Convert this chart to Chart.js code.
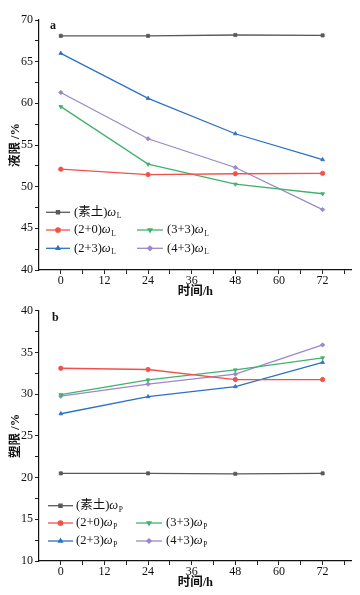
<!DOCTYPE html>
<html><head><meta charset="utf-8">
<script src="https://cdn.jsdelivr.net/npm/chart.js@4.4.1/dist/chart.umd.min.js"></script>
<style>
html,body{margin:0;padding:0;background:#fff;}
#wrap{position:relative;width:360px;height:595px;overflow:hidden;background:#fff;}
#c1{position:absolute;left:0;top:0;}
#c2{position:absolute;left:0;top:300px;}
</style></head>
<body>
<div id="wrap">
<canvas id="c1" width="360" height="300"></canvas>
<canvas id="c2" width="360" height="295"></canvas>
</div>
<script>
// ---- data ----
const hours = [0, 24, 48, 72];
const seriesNames = ['(素土)', '(2+0)', '(2+3)', '(3+3)', '(4+3)'];
// liquid limit (液限) %
const llPlain = [68.1, 68.1, 68.2, 68.15];
const ll20    = [52.1, 51.45, 51.55, 51.6];
const ll23    = [66.0, 60.6, 56.35, 53.25];
const ll33    = [59.6, 52.7, 50.3, 49.15];
const ll43    = [61.3, 55.75, 52.3, 47.25];
// plastic limit (塑限) %
const plPlain = [20.5, 20.5, 20.45, 20.5];
const pl20    = [33.1, 32.95, 31.75, 31.75];
const pl23    = [27.65, 29.7, 30.9, 33.8];
const pl33    = [29.95, 31.7, 32.9, 34.35];
const pl43    = [29.75, 31.2, 32.4, 35.9];
const xTicks = [0, 6, 12, 18, 24, 30, 36, 42, 48, 54, 60, 66, 72, 78];

const colors = ['#595959', '#f25149', '#2b72c4', '#3fb36c', '#9b88c9'];
const markers = ['rect', 'circle', 'triangle', 'triangle', 'rectRot'];
const rotations = [0, 0, 0, 180, 0];
const SERIF = "'Liberation Serif','Times New Roman','Noto Sans CJK SC',serif";
const MR = 2.2;

function pts(arr){ return hours.map((h,i)=>({x:h,y:arr[i]})); }

function makeDatasets(list){
  return list.map((arr,i)=>({
    label: seriesNames[i],
    data: pts(arr),
    borderColor: colors[i],
    backgroundColor: colors[i],
    borderWidth: 1.3,
    pointStyle: markers[i],
    pointRotation: rotations[i],
    pointRadius: MR,
    pointBorderWidth: 0.8,
    tension: 0
  }));
}

function drawMarker(ctx, style, rot, x, y){
  Chart.helpers.drawPoint(ctx, {pointStyle: style, rotation: rot, radius: MR, borderWidth: 0.8}, x, y);
}

const legendPlugin = {
  id: 'customLegend',
  afterDraw(chart, args, opts){
    const ctx = chart.ctx;
    ctx.save();
    opts.items.forEach(it=>{
      const i = it.idx;
      ctx.strokeStyle = colors[i];
      ctx.fillStyle = colors[i];
      ctx.lineWidth = 1.3;
      ctx.beginPath();
      ctx.moveTo(it.x0, it.y); ctx.lineTo(it.x1, it.y); ctx.stroke();
      drawMarker(ctx, markers[i], rotations[i], (it.x0+it.x1)/2, it.y);
      ctx.fillStyle = '#111';
      ctx.textBaseline = 'middle';
      ctx.textAlign = 'left';
      let tx = it.tx;
      ctx.font = "12.5px " + SERIF;
      ctx.fillText(seriesNames[i], tx, it.y);
      tx += ctx.measureText(seriesNames[i]).width;
      ctx.font = "italic 12.5px " + SERIF;
      ctx.fillText('ω', tx, it.y);
      tx += ctx.measureText('ω').width + 0.5;
      ctx.font = "7.5px " + SERIF;
      ctx.fillText(opts.sub, tx, it.y + 4);
    });
    ctx.fillStyle = '#111';
    ctx.font = "bold 12px " + SERIF;
    ctx.textBaseline = 'middle';
    ctx.fillText(opts.panel, opts.px, opts.py);
    ctx.restore();
  }
};

function makeChart(id, list, yMin, yMax, yTitle, cfg){
  const yTicks = [];
  for (let v = yMin; v <= yMax + 0.001; v += 2.5) yTicks.push(v);
  return new Chart(document.getElementById(id), {
    type: 'line',
    data: { datasets: makeDatasets(list) },
    plugins: [legendPlugin],
    options: {
      responsive: false,
      animation: false,
      devicePixelRatio: 1,
      layout: { padding: { top: cfg.padTop, right: 8.3, left: 0, bottom: 0 } },
      plugins: {
        legend: { display: false },
        tooltip: { enabled: false },
        customLegend: cfg.legend
      },
      scales: {
        x: {
          type: 'linear', min: -6, max: 80,
          afterBuildTicks: s => { s.ticks = xTicks.map(v=>({value:v})); },
          afterFit: s => { s.height = cfg.xh; },
          ticks: { autoSkip: false, maxRotation: 0, padding: 0, color: '#111',
            font: { family: SERIF, size: 12 },
            callback: v => (v % 12 === 0 ? String(v) : '') },
          grid: { display: true, drawOnChartArea: false, drawTicks: true, tickLength: 4, color: '#222', tickColor: '#222', lineWidth: 1 },
          border: { display: true, color: '#111', width: 1.2 },
          title: { display: true, text: '时间/h', color: '#111',
            font: { family: SERIF, size: 12.5, weight: 'bold' },
            padding: { top: 0, bottom: cfg.xtPad } }
        },
        y: {
          type: 'linear', min: yMin, max: yMax,
          afterBuildTicks: s => { s.ticks = yTicks.map(v=>({value:v})); },
          afterFit: s => { s.width = 39; },
          ticks: { autoSkip: false, padding: 2, color: '#111',
            font: { family: SERIF, size: 12 },
            callback: v => (v % 5 === 0 ? String(v) : '') },
          grid: { display: true, drawOnChartArea: false, drawTicks: true, tickLength: 4, color: '#222', tickColor: '#222', lineWidth: 1 },
          border: { display: true, color: '#111', width: 1.2 },
          title: { display: true, text: yTitle, color: '#111',
            font: { family: SERIF, size: 12.5, weight: 'bold' },
            padding: { top: 8, bottom: 0 } }
        }
      }
    }
  });
}

makeChart('c1', [llPlain, ll20, ll23, ll33, ll43], 40, 70, '液限 /%', {
  padTop: 20, xh: 30, xtPad: 1,
  legend: {
    sub: 'L', panel: 'a', px: 50, py: 26,
    items: [
      {idx:0, x0:46, x1:70, tx:74, y:212.3},
      {idx:1, x0:46, x1:70, tx:74, y:230},
      {idx:2, x0:46, x1:70, tx:74, y:248.3},
      {idx:3, x0:137, x1:163, tx:167, y:230},
      {idx:4, x0:137, x1:163, tx:167, y:248.3}
    ]
  }
});

makeChart('c2', [plPlain, pl20, pl23, pl33, pl43], 10, 40, '塑限 /%', {
  padTop: 10.7, xh: 34, xtPad: 4.5,
  legend: {
    sub: 'P', panel: 'b', px: 52, py: 18,
    items: [
      {idx:0, x0:48, x1:73, tx:76, y:205.7},
      {idx:1, x0:48, x1:73, tx:76, y:223},
      {idx:2, x0:48, x1:73, tx:76, y:241},
      {idx:3, x0:136, x1:162, tx:166, y:223},
      {idx:4, x0:136, x1:162, tx:166, y:241}
    ]
  }
});
</script>
</body></html>
